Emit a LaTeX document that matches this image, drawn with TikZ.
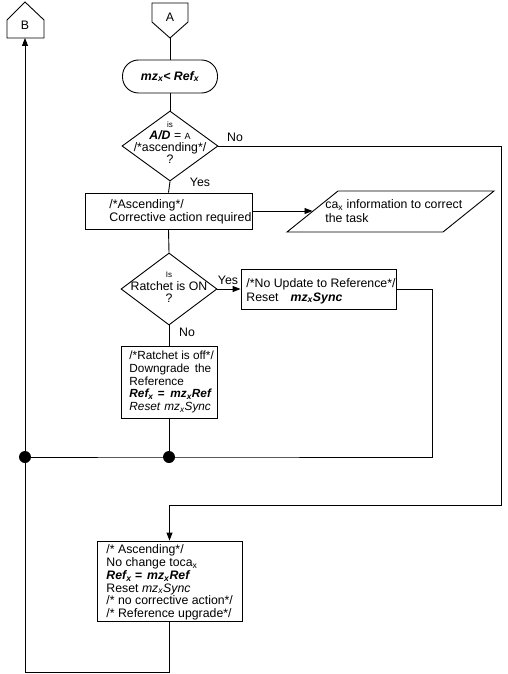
\documentclass[tikz,border=0pt]{standalone}
\usepackage{fontspec}
\setmainfont{Liberation Sans}
\usetikzlibrary{shapes.geometric,arrows.meta}
\newcommand{\sx}{\textsubscript{x}}
\tikzset{
  every node/.style={font=\fontsize{12.3}{12.7}\selectfont},
  box/.style={draw, rectangle, inner sep=0pt},
  dia/.style={draw, diamond, inner sep=0pt},
  term/.style={draw, rectangle, rounded corners=16pt, inner sep=0pt},
  txt/.style={align=left, inner sep=0pt, anchor=west},
  ctxt/.style={align=center, inner sep=0pt},
  lbl/.style={inner sep=0pt},
  arr/.style={-{Triangle[length=8pt,width=6pt]}},
  dot/.style={circle, fill, inner sep=0pt, minimum size=12pt}
}
\begin{document}
\begin{tikzpicture}[x=1pt,y=-1pt,line width=0.9pt]
\useasboundingbox (0,0) rectangle (507,674);
% off-page connector A
\draw (152,3) -- (188,3) -- (188,22) -- (170,38) -- (152,22) -- cycle;
\node[lbl] (A) at (170,17) {A};
\coordinate (Atip) at (170,38);
% off-page connector B
\draw (7,38) -- (7,20) -- (25,2) -- (44,20) -- (44,38) -- cycle;
\node[lbl] (B) at (25,25) {B};
\coordinate (Bbot) at (25,38);
% terminator
\node[term, minimum width=95pt, minimum height=33pt] (t) at (170,76.5) {};
\node[ctxt] (tt) at (t.center) {\bfseries\itshape mz\sx< Ref\sx};
% decision 1
\node[dia, minimum width=96pt, minimum height=70pt] (d1) at (170,146) {};
\node[ctxt, font=\fontsize{12.3}{12}\selectfont] (d1t) at (170,143) {{\fontsize{8}{12}\selectfont is}\\{\bfseries\itshape A/D} = {\fontsize{9}{12}\selectfont A}\\/*ascending*/\\?};
\node[lbl] (no1) at (235,137) {No};
\node[lbl] (yes1) at (200,182) {Yes};
% box 1
\node[box, minimum width=167pt, minimum height=36pt] (b1) at (168.5,211) {};
\node[txt, font=\fontsize{12.4}{13.3}\selectfont] (b1t) at (109,211.5) {/*Ascending*/\\Corrective action required};
% parallelogram
\draw (338,191) -- (494,191) -- (443,232) -- (287,232) -- cycle;
\coordinate (pl) at (312.5,211);
\node[txt, font=\fontsize{12.3}{14}\selectfont] (pt) at (325,211) {ca\sx{} information to correct\\the task};
% decision 2
\node[dia, minimum width=96pt, minimum height=72pt] (d2) at (169,289) {};
\node[ctxt] (d2t) at (169,287.5) {{\fontsize{8}{12.7}\selectfont Is}\\Ratchet is ON\\?};
\node[lbl] (yes2) at (228,280) {Yes};
\node[lbl] (no2) at (187,332) {No};
% box 2
\node[box, minimum width=155pt, minimum height=40pt] (b2) at (318.5,289) {};
\node[txt, font=\fontsize{12.3}{14}\selectfont] (b2t) at (246,291) {/*No Update to Reference*/\\Reset\hspace{12pt}{\bfseries\itshape mz\sx Sync}};
% box 3
\node[box, minimum width=96pt, minimum height=72pt] (b3) at (169,382) {};
\node[txt, font=\fontsize{11.8}{12.7}\selectfont] (b3t) at (129,382) {/*Ratchet is off*/\\Downgrade\hspace{5pt}the\\Reference\\{\bfseries\itshape Ref\sx\hspace{4pt}=\hspace{6pt}mz\sx Ref}\\{\itshape Reset\hspace{4pt}mz\sx Sync}};
% box 4
\node[box, minimum width=145pt, minimum height=80pt] (b4) at (169.5,581) {};
\node[txt] (b4t) at (106,582.5) {/* Ascending*/\\No change toca\sx\\{\bfseries\itshape Ref\sx{} =\hspace{5pt}mz\sx Ref}\\Reset {\itshape mz\sx Sync}\\/* no corrective action*/\\/* Reference upgrade*/};
% junctions
\coordinate (j1) at (25,457);
\coordinate (j2) at (169,457);
\coordinate (r2) at (432,457);
\coordinate (c1) at (501,505);
\coordinate (c2) at (25,672);
% connectors
\draw (Atip) -- (t.north);
\draw (t.south) -- (d1.north);
\draw (d1.south) -- (b1.north);
\draw[arr] (b1.east) -- (pl);
\draw (b1.south) -- (d2.north);
\draw[arr] (d2.east) -- (b2.west);
\draw (d2.south) -- (b3.north);
\draw (b3.south) -- (j2);
\draw (b2.east) -| (r2) -- (j2) -- (j1);
\draw[arr] (d1.east) -| (c1) -| (b4.north);
\draw[arr] (b4.south) |- (c2) -- (Bbot);
\node[dot] (jd1) at (j1) {};
\node[dot] (jd2) at (j2) {};
\end{tikzpicture}
\end{document}
